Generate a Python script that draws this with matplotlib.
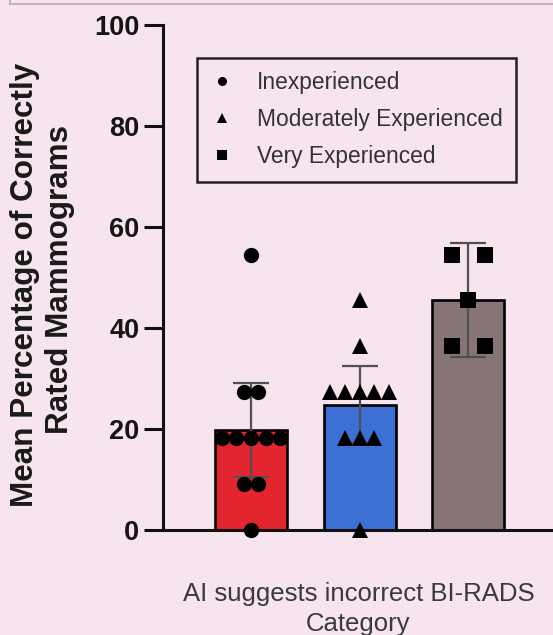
import numpy as np
import matplotlib
matplotlib.use("Agg")
import matplotlib.pyplot as plt
from matplotlib.lines import Line2D

# Percentage of correctly rated mammograms per reader, by experience group
groups = ["Inexperienced", "Moderately Experienced", "Very Experienced"]
inexperienced = [54.5, 27.3, 27.3, 18.2, 18.2, 18.2, 18.2, 18.2, 9.1, 9.1, 0.0]
moderate = [45.5, 36.4, 27.3, 27.3, 27.3, 27.3, 27.3, 18.2, 18.2, 18.2, 0.0]
very = [54.5, 54.5, 45.5, 36.4, 36.4]
error = [9.3, 7.6, 11.3]
y_ticks = [0, 20, 40, 60, 80, 100]

series = [inexperienced, moderate, very]
bar_colors = ["#e3252f", "#3d6fd4", "#877477"]
markers = ["o", "^", "s"]
marker_sizes = [11, 11, 11]
spread = [0.135, 0.135, 0.30]

BG = "#f6e4ef"
W, H = 553, 635
fig = plt.figure(figsize=(W / 100, H / 100), dpi=100, facecolor=BG)

ax_left, ax_right, ax_top, ax_bottom = 163, 553, 25, 530
ax = fig.add_axes([ax_left / W, 1 - ax_bottom / H,
                   (ax_right - ax_left) / W, (ax_bottom - ax_top) / H])
ax.set_facecolor(BG)

positions = np.arange(len(series))
means = [float(np.mean(s)) for s in series]

ax.bar(positions, means, width=0.66, color=bar_colors, edgecolor="black",
       linewidth=1.9, zorder=2)
ax.errorbar(positions, means, yerr=error, fmt="none", ecolor="#505050",
            elinewidth=1.6, capsize=13, capthick=1.6, zorder=3)

# spread tied values side by side so every reader stays visible
for pos, vals, m, ms, step in zip(positions, series, markers, marker_sizes, spread):
    vals = np.asarray(vals)
    xs = np.empty_like(vals)
    for v in np.unique(vals):
        idx = np.where(vals == v)[0]
        n = len(idx)
        xs[idx] = pos + (np.arange(n) - (n - 1) / 2) * step
    ax.plot(xs, vals, linestyle="none", marker=m, markersize=ms,
            color="black", markeredgewidth=0, zorder=4, clip_on=False)

ax.set_xlim(-0.811, 2.78)
ax.set_ylim(0, 100)
ax.set_yticks(y_ticks)
ax.set_xticks([])
for side in ("top", "right"):
    ax.spines[side].set_visible(False)
for side in ("left", "bottom"):
    ax.spines[side].set_linewidth(2.2)
    ax.spines[side].set_color("#111111")
ax.tick_params(axis="y", length=14, width=2.2, color="#111111", pad=3)
for lab in ax.get_yticklabels():
    lab.set_fontfamily("Liberation Sans")
    lab.set_fontweight("bold")
    lab.set_fontsize(19.5)
    lab.set_color("#161616")

handles = [Line2D([], [], linestyle="none", marker=m, markersize=6.5,
                  color="black", markeredgewidth=0) for m in markers]
leg = ax.legend(handles, groups, loc="upper left",
                bbox_to_anchor=((197 - ax_left) / (ax_right - ax_left),
                                (ax_bottom - 58) / (ax_bottom - ax_top)),
                borderaxespad=0, frameon=True, fancybox=False,
                prop={"family": "Liberation Sans", "size": 16.4},
                handlelength=1.0, handletextpad=1.05, labelspacing=0.62,
                borderpad=0.58)
leg.get_frame().set_edgecolor("#222222")
leg.get_frame().set_linewidth(1.8)
leg.get_frame().set_facecolor(BG)
leg.get_frame().set_alpha(1)
for t in leg.get_texts():
    t.set_color("#333333")

# y-axis title, two centred lines
fig.text(25 / W, 1 - 285 / H, "Mean Percentage of Correctly", rotation=90,
         ha="center", va="center", family="Liberation Sans",
         fontweight="bold", fontsize=22.6, color="#1a1a1a")
fig.text(60 / W, 1 - 279 / H, "Rated Mammograms", rotation=90,
         ha="center", va="center", family="Liberation Sans",
         fontweight="bold", fontsize=22.6, color="#1a1a1a")

# x-axis title
fig.text(359 / W, 1 - 594 / H, "AI suggests incorrect BI-RADS",
         ha="center", va="center", family="Liberation Sans",
         fontsize=18.5, color="#3a3a3a")
fig.text(358 / W, 1 - 624 / H, "Category",
         ha="center", va="center", family="Liberation Sans",
         fontsize=18.5, color="#3a3a3a")

# panel border along the top edge
fig.add_artist(Line2D([10 / W, 1], [1 - 3.5 / H, 1 - 3.5 / H],
                      transform=fig.transFigure, color="#c6b3c0", linewidth=1.5))
fig.add_artist(Line2D([10 / W, 10 / W], [1 - 3.5 / H, 1],
                      transform=fig.transFigure, color="#c6b3c0", linewidth=1.5))

fig.savefig("out.png", dpi=100, facecolor=BG)
